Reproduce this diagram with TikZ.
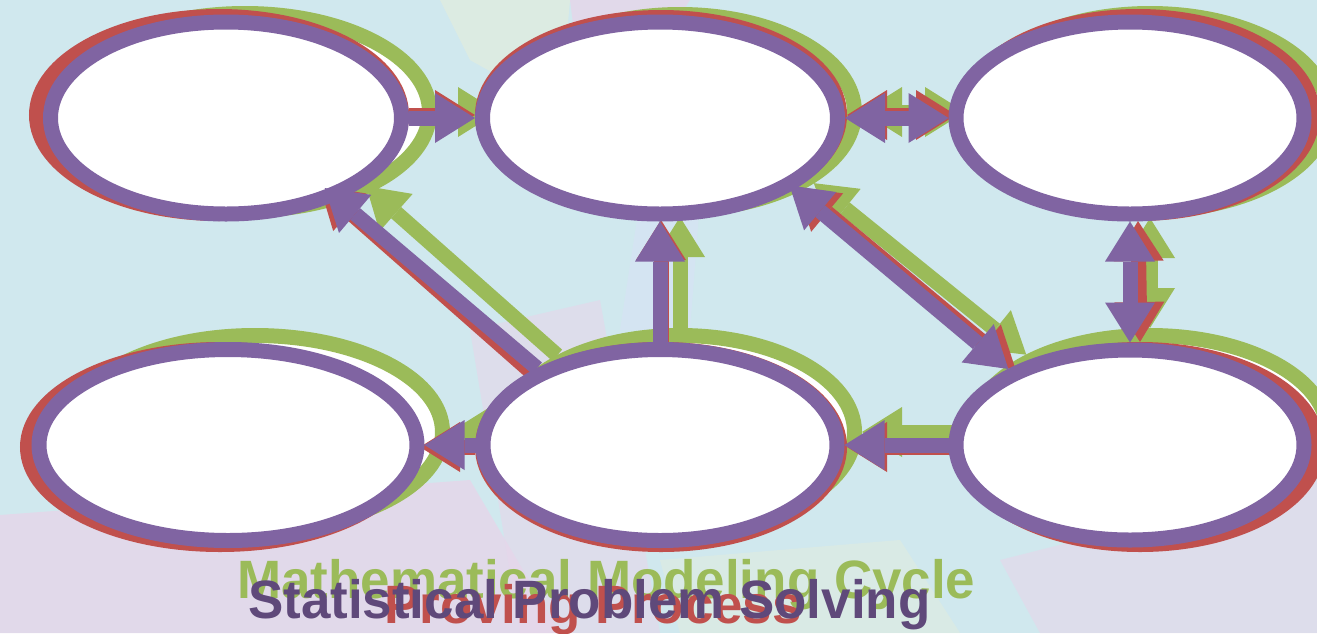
\documentclass[tikz,border=0pt]{standalone}
\usepackage{fontspec}
\newfontfamily\labfont[FakeStretch=0.98]{Liberation Sans}
\usetikzlibrary{arrows.meta,shapes.geometric}
\definecolor{bg}{HTML}{D0E8EE}
\definecolor{grn}{HTML}{9BBB59}
\definecolor{rd}{HTML}{C0504D}
\definecolor{pur}{HTML}{8064A2}
\definecolor{purtxt}{HTML}{5F497A}
\definecolor{pk}{HTML}{E6D6EA}
\definecolor{yl}{HTML}{E0ECDF}
\definecolor{lb}{HTML}{D6E4F3}
\begin{document}
\begin{tikzpicture}[x=1pt,y=-1pt,
  ell/.style={ellipse, draw=#1, fill=white, line width=15pt, inner sep=0pt},
  con/.style={draw=#1, line width=15pt, >={Triangle[length=40pt,width=50pt,line width=0pt]}},
  ttl/.style={anchor=base west, inner sep=0pt, font=\labfont\bfseries\fontsize{54pt}{60pt}\selectfont}]
\useasboundingbox (0,0) rectangle (1317,633);
\clip (0,0) rectangle (1317,633);
% background
\fill[bg] (0,0) rectangle (1317,633);
\fill[pk, opacity=.8] (0,515) -- (470,480) -- (560,633) -- (0,633) -- cycle;
\fill[pk, opacity=.6] (470,330) -- (600,300) -- (660,633) -- (520,633) -- cycle;
\fill[yl, opacity=.8] (440,0) -- (570,0) -- (560,110) -- (470,60) -- cycle;
\fill[pk, opacity=.8] (570,0) -- (690,0) -- (670,30) -- (575,40) -- cycle;
\fill[yl, opacity=.6] (660,560) -- (900,540) -- (960,633) -- (680,633) -- cycle;
\fill[pk, opacity=.6] (1000,560) -- (1317,480) -- (1317,633) -- (1040,633) -- cycle;
\fill[lb, opacity=.8] (640,200) -- (700,200) -- (690,330) -- (620,330) -- cycle;

% ---------- green layer: Mathematical Modeling Cycle
\node[ell=grn, minimum width=369pt, minimum height=197pt] (gTL) at (245,112) {};
\node[ell=grn, minimum width=349pt, minimum height=195pt] (gTM) at (680,112) {};
\node[ell=grn, minimum width=355pt, minimum height=197pt] (gTR) at (1150,112) {};
\node[ell=grn, minimum width=375pt, minimum height=193pt] (gBL) at (255,432) {};
\node[ell=grn, minimum width=349pt, minimum height=193pt] (gBM) at (680,432) {};
\node[ell=grn, minimum width=355pt, minimum height=193pt] (gBR) at (1150,432) {};
\draw[con=grn,->] (gTL.east) -- (gTM.west);
\draw[con=grn,<->] (gTM.east) -- (gTR.west);
\draw[con=grn,->,shorten >=-8pt] (gBM.148) -- (gTL.-32);
\draw[con=grn,->] (gBM.north) -- (gTM.south);
\draw[con=grn,<->] (gTM.-28.5) -- (gBR.148);
\draw[con=grn,<->] (gTR.south) -- (gBR.north);
\draw[con=grn,->] (gBR.west) -- (gBM.east);
\draw[con=grn,->] (gBM.west) -- (gBL.east);

% ---------- red layer: Proving Process
\node[ell=rd, minimum width=365pt, minimum height=197pt] (rTL) at (219,115) {};
\node[ell=rd, minimum width=357pt, minimum height=195pt] (rTM) at (661,115) {};
\node[ell=rd, minimum width=349pt, minimum height=197pt] (rTR) at (1138,115) {};
\node[ell=rd, minimum width=385pt, minimum height=195pt] (rBL) at (220,447) {};
\node[ell=rd, minimum width=357pt, minimum height=195pt] (rBM) at (661,447) {};
\node[ell=rd, minimum width=355pt, minimum height=195pt] (rBR) at (1140,447) {};
\draw[con=rd,->] (rTL.east) -- (rTM.west);
\draw[con=rd,<->] (rTM.east) -- (rTR.west);
\draw[con=rd,->,shorten >=-20pt] (rBM.150) -- (rTL.-36);
\draw[con=rd,->] (rBM.north) -- (rTM.south);
\draw[con=rd,<->] (rTM.-28.5) -- (rBR.148);
\draw[con=rd,<->] (rTR.south) -- (rBR.north);
\draw[con=rd,->] (rBR.west) -- (rBM.east);
\draw[con=rd,->] (rBM.west) -- (rBL.east);

% ---------- purple layer: Statistical Problem Solving
\node[ell=pur, minimum width=351pt, minimum height=192pt] (pTL) at (226,118) {};
\node[ell=pur, minimum width=355pt, minimum height=192pt] (pTM) at (660,118) {};
\node[ell=pur, minimum width=348pt, minimum height=192pt] (pTR) at (1130,118) {};
\node[ell=pur, minimum width=378pt, minimum height=191pt] (pBL) at (228,445) {};
\node[ell=pur, minimum width=354pt, minimum height=191pt] (pBM) at (660,445) {};
\node[ell=pur, minimum width=348pt, minimum height=190pt] (pBR) at (1130,445) {};
\draw[con=pur,->] (pTL.east) -- (pTM.west);
\draw[con=pur,<->] (pTM.east) -- (pTR.west);
\draw[con=pur,->,shorten >=-18pt] (pBM.148) -- (pTL.-36);
\draw[con=pur,->] (pBM.north) -- (pTM.south);
\draw[con=pur,<->,shorten <=-6pt] (pTM.-28.5) -- (pBR.148);
\draw[con=pur,<->] (pTR.south) -- (pBR.north);
\draw[con=pur,->] (pBR.west) -- (pBM.east);
\draw[con=pur,->] (pBM.west) -- (pBL.east);

% ---------- titles
\node[ttl, text=grn] (t1) at (237,598) {Mathematical Modeling Cycle};
\node[ttl, text=rd] (t2) at (384,623) {Proving Process};
\node[ttl, text=purtxt] (t3) at (248,618) {Statistical Problem Solving};
\end{tikzpicture}
\end{document}
